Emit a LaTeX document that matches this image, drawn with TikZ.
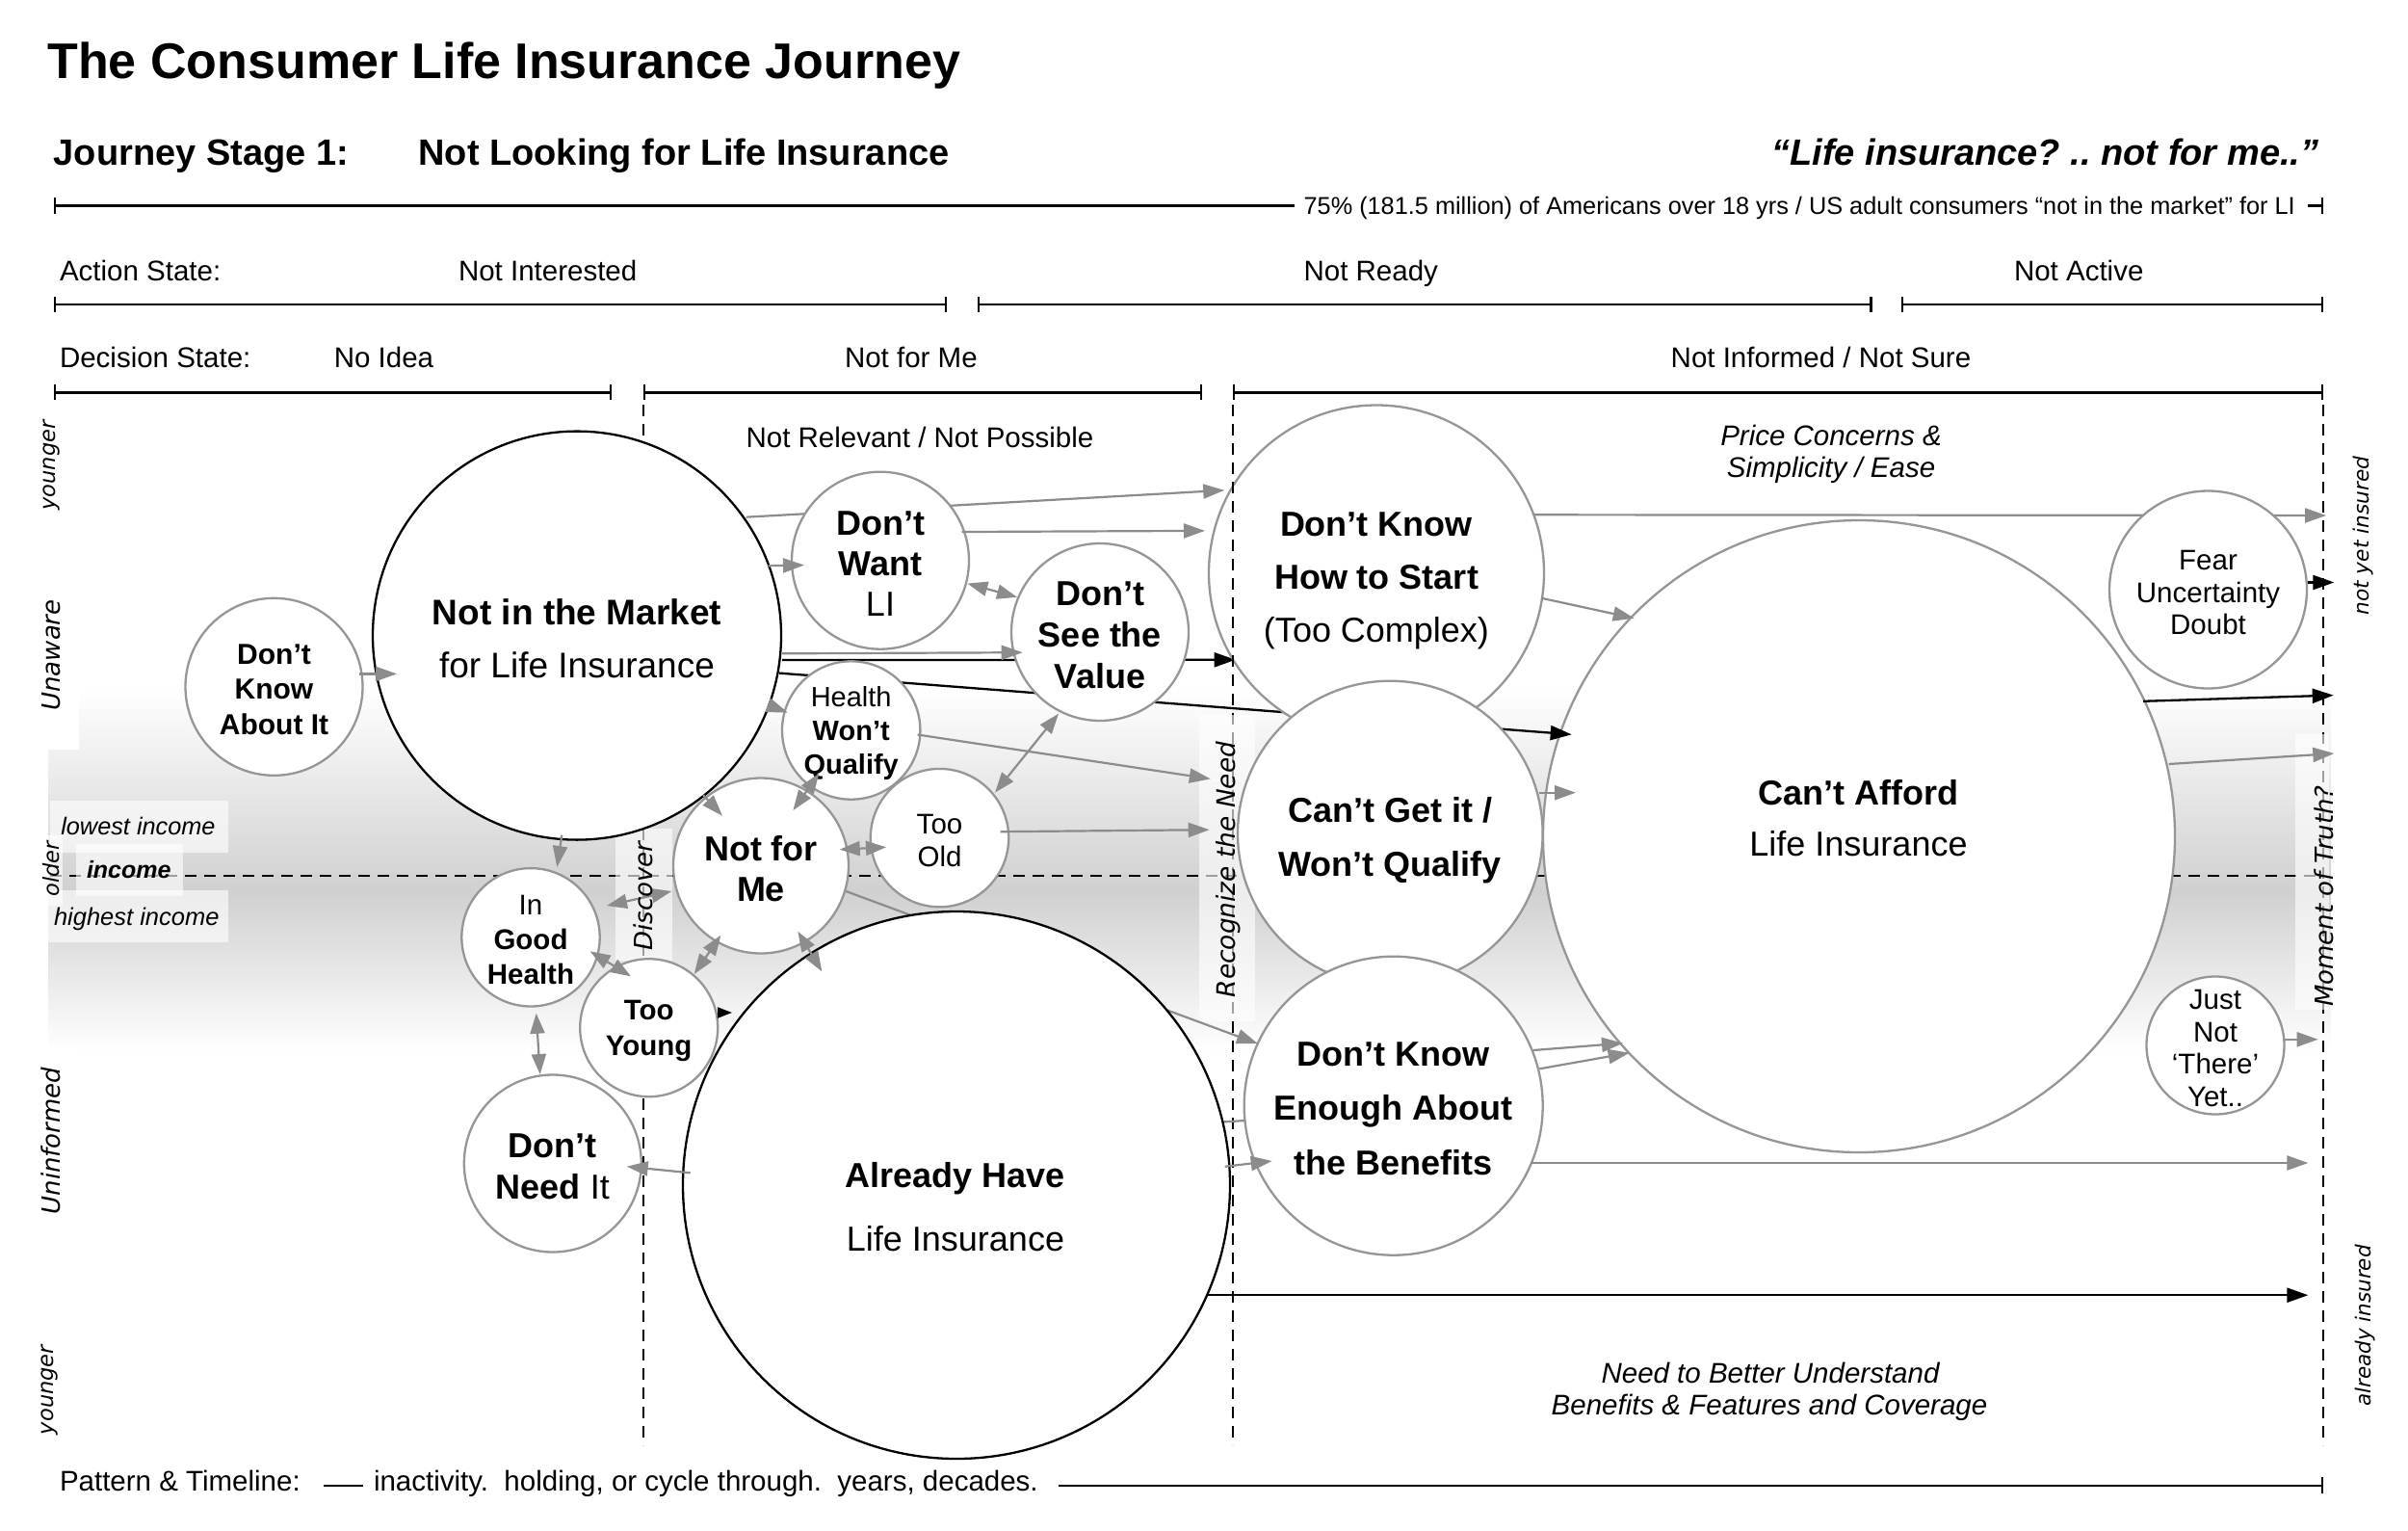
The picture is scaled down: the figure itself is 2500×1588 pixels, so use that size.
\documentclass[tikz,border=0pt]{standalone}
\usepackage{fontspec}
\setmainfont{Liberation Sans}
\newfontfamily\dvfont{DejaVu Sans}
\usetikzlibrary{arrows.meta,calc}
\pgfdeclarelayer{bgzero}
\pgfdeclarelayer{bgone}
\pgfdeclarelayer{fg}
\pgfsetlayers{bgzero,bgone,main,fg}
\definecolor{cgray}{RGB}{150,150,150}
\definecolor{agray}{RGB}{140,140,140}
\definecolor{bandgray}{RGB}{208,208,208}
\newcommand{\fsz}[2]{\fontsize{#1}{#2}\selectfont}
\frenchspacing
\tikzset{
 circ/.style={circle, draw=cgray, line width=2.3pt, fill=white, inner sep=0pt, outer sep=0pt},
 bcirc/.style={circ, draw=black},
 ct/.style={align=center, inner sep=0pt, outer sep=0pt, yshift=-3pt},
 ga/.style={agray, line width=2.2pt, -{Triangle[length=22pt,width=15pt]}},
 gda/.style={agray, line width=2.2pt, {Triangle[length=21pt,width=15pt]}-{Triangle[length=21pt,width=15pt]}},
 ba/.style={black, line width=2.3pt, -{Triangle[length=22pt,width=15pt]}},
 sba/.style={black, line width=2pt, -{Triangle[length=15pt,width=11pt]}},
 gl/.style={agray, line width=2.2pt},
 dsh/.style={black, line width=2pt, dash pattern=on 12pt off 8pt},
 bar/.style={black, line width=2.4pt},
 tk/.style={bar, {Bar[width=16pt]}-{Bar[width=16pt]}},
 txt/.style={inner sep=0pt, outer sep=0pt, anchor=base west},
 ctxt/.style={inner sep=0pt, outer sep=0pt, anchor=base},
 rot/.style={rotate=90, inner sep=0pt, outer sep=0pt},
 lbox/.style={fill=white, fill opacity=0.62, draw=none},
}
\begin{document}
\begin{tikzpicture}[x=1pt,y=-1pt]
\useasboundingbox (0,0) rectangle (2500,1588);
% ---------------- background layer ----------------
\begin{pgfonlayer}{bgzero}
\fill[white] (0,0) rectangle (2500,1588);
\shade[top color=white,bottom color=bandgray] (50,715) rectangle (2420,925);
\shade[top color=bandgray,bottom color=white] (50,925) rectangle (2420,1092);
\fill[white] (38,600) rectangle (82,778);
\fill[white] (38,1085) rectangle (82,1270);
\draw[dsh] (52,909.3) -- (2412.3,909.3);
\draw[dsh] (667.7,420) -- (667.7,1500);
\draw[dsh] (1280,420) -- (1280,1500);
\draw[dsh] (2412.3,420) -- (2412.3,1500);
\fill[lbox] (51.7,831) rectangle (236.7,885);
\fill[lbox] (50,924) rectangle (237.3,978);
\fill[lbox] (79,875.7) rectangle (190,930);
\fill[lbox] (50,866.7) rectangle (65,940);
\fill[lbox] (639.3,860) rectangle (698.3,996.7);
\fill[lbox] (1245,741.7) rectangle (1303,1060);
\fill[lbox] (2383,762) rectangle (2418,1048);
\end{pgfonlayer}

% ---------------- header ----------------
\node[txt,font=\fsz{52}{60}\bfseries] (title) at (49.4,81.7) {The Consumer Life Insurance Journey};
\node[txt,font=\fsz{38}{44}\bfseries] (stage) at (55.8,171.7) {Journey Stage 1:};
\node[txt,font=\fsz{38}{44}\bfseries] (stagename) at (434.5,171.7) {Not Looking for Life Insurance};
\node[inner sep=0pt,anchor=base east,font=\fsz{38}{44}\bfseries\itshape] (quote) at (2407.5,171.7) {“Life insurance? .. not for me..”};
\draw[bar,{Bar[width=17pt]}-] (55.8,213.3) -- (1344,213.3);
\node[txt,font=\fsz{25.3}{30}] (pct) at (1353.6,222.7) {75\% (181.5 million) of Americans over 18 yrs / US adult consumers “not in the market” for LI};
\draw[bar,-{Bar[width=17pt]}] (2395.6,213.3) -- (2412.3,213.3);

\node[txt,font=\fsz{29.5}{35}] (as) at (62,291.7) {Action State:};
\node[txt,font=\fsz{29.5}{35}] (as1) at (476,291.7) {Not Interested};
\node[txt,font=\fsz{29.5}{35}] (as2) at (1353.6,291.7) {Not Ready};
\node[txt,font=\fsz{29.5}{35}] (as3) at (2091,291.7) {Not Active};
\draw[tk] (55.8,316) -- (983,316);
\draw[tk] (1014.8,316) -- (1943.6,316);
\draw[tk] (1973.9,316) -- (2412.3,316);

\node[txt,font=\fsz{29.5}{35}] (ds) at (62,381.7) {Decision State:};
\node[txt,font=\fsz{29.5}{35}] (ds1) at (346.8,381.7) {No Idea};
\node[txt,font=\fsz{29.5}{35}] (ds2) at (877,381.7) {Not for Me};
\node[txt,font=\fsz{29.5}{35}] (ds3) at (1734.7,381.7) {Not Informed / Not Sure};
\draw[tk] (55.8,407.3) -- (635.4,407.3);
\draw[tk] (668,407.3) -- (1248.3,407.3);
\draw[tk] (1280,407.3) -- (2412.3,407.3);

\node[txt,font=\fsz{29.5}{35}] (nrnp) at (774.6,464) {Not Relevant / Not Possible};
\node[ctxt,font=\fsz{29.5}{35}\itshape] (pc1) at (1901,462.4) {Price Concerns \&};
\node[ctxt,font=\fsz{29.5}{35}\itshape] (pc2) at (1901,495.9) {Simplicity / Ease};
\node[ctxt,font=\fsz{29.5}{35}\itshape] (nb1) at (1838,1435) {Need to Better Understand};
\node[ctxt,font=\fsz{29.5}{35}\itshape] (nb2) at (1837,1468) {Benefits \& Features and Coverage};

\node[txt,font=\fsz{29.5}{35}] (pt) at (62,1547) {Pattern \& Timeline:};
\draw[bar] (336,1541.8) -- (377,1541.8);
\node[txt,font=\fsz{29.5}{35}] (pt2) at (388,1547) {inactivity.\ \ holding, or cycle through.\ \ years, decades.};
\draw[bar,-{Bar[width=17pt]}] (1098.7,1541.8) -- (2412.3,1541.8);

% ---------------- circles ----------------
\begin{pgfonlayer}{bgone}
\node[circ,minimum size=656pt] (ca) at (1930,868) {};
\end{pgfonlayer}

\node[circ,minimum size=184pt] (dka) at (284.5,712.8) {};
\node[ct,font=\fsz{30}{36.3}\bfseries] at (dka) {Don’t\\Know\\About It};

\node[bcirc,minimum size=424pt] (nim) at (599,659.6) {};
\node[ct,font=\fsz{37}{55.5}] at (nim) {\textbf{Not in the Market}\\for Life Insurance};

\node[circ,minimum size=184pt] (dw) at (914,581.7) {};
\node[ct,font=\fsz{36}{42}] at (dw) {\textbf{Don’t}\\\textbf{Want}\\LI};

\node[circ,minimum size=184pt] (dsv) at (1142,656) {};
\node[ct,font=\fsz{36}{43}\bfseries] at (dsv) {Don’t\\See the\\Value};

\node[circ,minimum size=143.4pt] (hwq) at (883.7,758) {};
\node[ct,font=\fsz{29}{35}] at (hwq) {Health\\\textbf{Won’t}\\\textbf{Qualify}};

\node[circ,minimum size=143.4pt] (to) at (975.5,869.6) {};
\node[ct,font=\fsz{29.5}{33.5}] at (to) {Too\\Old};

\node[circ,minimum size=182pt] (nfm) at (790,898.5) {};
\node[ct,font=\fsz{36}{42.6}\bfseries] at (nfm) {Not for\\Me};

\node[circ,minimum size=143.4pt] (igh) at (551,972.8) {};
\node[ct,font=\fsz{29.5}{36}] at (igh) {In\\\textbf{Good}\\\textbf{Health}};

\node[circ,minimum size=143pt] (ty) at (673.7,1066.7) {};
\node[ct,font=\fsz{29.5}{36.7}\bfseries] at (ty) {Too\\Young};

\node[circ,minimum size=184pt] (dni) at (573.8,1207.5) {};
\node[ct,font=\fsz{36}{43.3}] at (dni) {\textbf{Don’t}\\\textbf{Need} It};

\node[bcirc,minimum size=568pt] (ah) at (993,1230) {};
\node[ctxt,font=\fsz{36}{42}\bfseries] (ah1) at (992,1232.5) {Already Have};
\node[ctxt,font=\fsz{36}{42}] (ah2) at (992,1298) {Life Insurance};

\node[circ,minimum size=348pt] (hts) at (1429,594.5) {};
\node[ct,font=\fsz{36}{55},yshift=-5pt] at (hts) {\textbf{Don’t Know}\\\textbf{How to Start}\\(Too Complex)};

\node[circ,minimum size=316.6pt] (cgi) at (1443.3,865) {};
\node[ct,font=\fsz{36}{56.6}\bfseries,yshift=-4pt] at (cgi) {Can’t Get it /\\Won’t Qualify};

\node[circ,minimum size=310pt] (dke) at (1446.7,1147.7) {};
\node[ct,font=\fsz{36}{56.7}\bfseries] at (dke) {Don’t Know\\Enough About\\the Benefits};

\node[ctxt,font=\fsz{36}{42}\bfseries] (ca1) at (1929.5,835.2) {Can’t Afford};
\node[ctxt,font=\fsz{36}{42}] (ca2) at (1929.5,888.8) {Life Insurance};

\node[circ,minimum size=205pt] (fud) at (2292.5,612) {};
\node[ct,font=\fsz{29.5}{33.5}] at (fud) {Fear\\Uncertainty\\Doubt};

\node[circ,minimum size=143pt] (jnt) at (2300,1085) {};
\node[ct,font=\fsz{29.5}{33.7}] at (jnt) {Just\\Not\\‘There’\\Yet..};

% free ends
\coordinate (r1) at (2415,535);
\coordinate (r2) at (2423.3,604.5);
\coordinate (r3) at (2422.7,721.6);
\coordinate (r4) at (2423.3,782);
\coordinate (r5) at (2406.7,1078.8);
\coordinate (r6) at (2396.4,1207);
\coordinate (r7) at (2396.4,1344.2);
\coordinate (e1) at (1256.8,808.4);
\coordinate (e2) at (1255.7,861.2);
\coordinate (e3) at (1636,822.7);

% ---------------- connectors behind circles ----------------
\begin{pgfonlayer}{bgone}
\draw[ga] ($(nim)+(175.6,-122.9)$) -- ($(hts)+(-157.8,-85.7)$);
\draw[ba] ($(nim)+(213,25.4)$) -- ($(hts)+(-146.3,90.3)$);
\draw[ba] ($(nim)+(210,39)$) -- ($(ca)+(-298.3,-105.7)$);
\draw[ga] ($(nfm)+(88.3,26.5)$) -- ($(dke)+(-140.7,-64.4)$);
\draw[gl] ($(ah)+(275,-65.5)$) -- ($(dke)+(-153.7,15.3)$);
\draw[ga] ($(hts)+(162.7,-60.2)$) -- (r1);
\end{pgfonlayer}

% ---------------- connectors on top ----------------
\begin{pgfonlayer}{fg}
\draw[dsh] (1280,420) -- (1280,700);
\draw[ga] ($(dka)+(88.5,-13.4)$) -- ($(nim)+(-187,39.8)$);
\draw[ga] ($(nim)+(198.6,-72.4)$) -- ($(dw)+(-79,4.8)$);
\draw[ga] ($(dw)+(84.5,-29.7)$) -- ($(hts)+(-178,-43.6)$);
\draw[gda] ($(dw)+(90.3,23.9)$) -- ($(dsv)+(-86,-36.2)$);
\draw[ga] ($(nim)+(213,18.7)$) -- ($(dsv)+(-80.3,21.2)$);
\draw[ga] ($(nim)+(198.6,72.3)$) -- ($(hwq)+(-66,-18.4)$);
\draw[ga] ($(nim)+(-15.7,207.1)$) -- ($(igh)+(27.3,-72.8)$);
\draw[ga] ($(nim)+(131,165.4)$) -- ($(nfm)+(-40,-51.8)$);
\draw[gda] ($(hwq)+(-33.3,44.7)$) -- ($(nfm)+(33.4,-57.5)$);
\draw[ga] ($(hwq)+(68.9,4.5)$) -- (e1);
\draw[ga] ($(to)+(63.2,-6.4)$) -- (e2);
\draw[gda] ($(to)+(57.5,-47)$) -- ($(dsv)+(-43,84.7)$);
\draw[gda] ($(nfm)+(81.7,-16.8)$) -- ($(to)+(-55.5,9.7)$);
\draw[gda] ($(igh)+(79,-32.8)$) -- ($(nfm)+(-92.7,26.5)$);
\draw[gda] ($(igh)+(61.7,14.5)$) -- ($(ty)+(-18.7,-53.4)$);
\draw[gda] ($(nfm)+(-41.7,72.2)$) -- ($(ty)+(47,-55.7)$);
\draw[gda] ($(nfm)+(38.3,68.2)$) -- ($(ah)+(-139.7,-221.7)$);
\draw[gda] ($(igh)+(5.7,78.9)$) -- ($(dni)+(-13.1,-92.5)$);
\draw[sba] ($(ty)+(71.3,-15.7)$) -- ($(ah)+(-233,-179)$);
\draw[ga] ($(ah)+(-276.3,-12.7)$) -- ($(dni)+(76.9,3.2)$);
\draw[ga] ($(ah)+(278.7,-19.3)$) -- ($(dke)+(-126,57.3)$);
\draw[ba] ($(ah)+(260,114.2)$) -- (r7);
\draw[ga] ($(dke)+(142.1,59.3)$) -- (r6);
\draw[ga] ($(dke)+(145,-57.7)$) -- ($(ca)+(-245,214.7)$);
\draw[ga] ($(dke)+(151.6,-38.4)$) -- ($(ca)+(-238.3,224.7)$);
\draw[ga] ($(hts)+(171,26.2)$) -- ($(ca)+(-233.3,-226.3)$);
\draw[ba] ($(fud)+(103.5,-7.5)$) -- (r2);
\draw[ba] ($(ca)+(295,-140.2)$) -- (r3);
\draw[ga] ($(ca)+(321.7,-75)$) -- (r4);
\draw[ga] ($(jnt)+(71.7,-6.2)$) -- (r5);
\draw[ga] ($(cgi)+(155,-42.3)$) -- (e3);

% income labels
\node[txt,font=\fsz{25.3}{30}\itshape] (li) at (63.3,866.7) {lowest income};
\node[txt,font=\fsz{25}{30}\bfseries\itshape] (inc) at (90,911.7) {income};
\node[txt,font=\fsz{25.5}{30}\itshape] (hi) at (56,960) {highest income};

% rotated labels
\node[rot,font=\dvfont\itshape\fsz{22.5}{27}] (yg1) at (54,483) {younger};
\node[rot,font=\dvfont\itshape\fsz{26}{31}] (unaw) at (53,680) {Unaware};
\node[rot,font=\dvfont\itshape\fsz{22.5}{27}] (old) at (53.5,902) {older};
\node[rot,font=\dvfont\itshape\fsz{26}{31}] (uninf) at (53,1184) {Uninformed};
\node[rot,font=\dvfont\itshape\fsz{22.5}{27}] (yg2) at (52,1442.5) {younger};
\node[rot,font=\dvfont\itshape\fsz{21.7}{26}] (nyi) at (2453,556) {not yet insured};
\node[rot,font=\dvfont\itshape\fsz{21.5}{26}] (ai) at (2456,1376) {already insured};
\node[rot,font=\dvfont\itshape\fsz{26}{31}] (disc) at (668,930) {Discover};
\node[rot,font=\dvfont\itshape\fsz{26.4}{31}] (rtn) at (1275,902.5) {Recognize the Need};
\node[rot,font=\dvfont\itshape\fsz{26}{31}] (mot) at (2413,930) {Moment of Truth?};
\end{pgfonlayer}
\end{tikzpicture}
\end{document}
